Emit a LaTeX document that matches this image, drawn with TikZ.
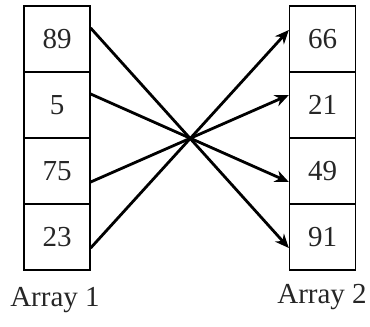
\documentclass[tikz,border=0pt]{standalone}
\usepackage{fontspec}
\setmainfont{Liberation Serif}
\usetikzlibrary{arrows.meta,calc}
\begin{document}
\begin{tikzpicture}[x=1pt,y=-1pt,
  cell/.style={draw, line width=1.3pt, minimum width=66pt, minimum height=66pt, inner sep=0pt, font=\fontsize{29}{32}\selectfont, text=black!85},
  lbl/.style={inner sep=0pt, font=\fontsize{29}{32}\selectfont, text=black!85},
  arr/.style={line width=2.8pt, -{Stealth[length=14pt,width=12pt]}}]
\useasboundingbox (0,0) rectangle (370,327);
\node[cell] (a1) at (57,39) {89};
\node[cell] (a2) at (57,105) {5};
\node[cell] (a3) at (57,171) {75};
\node[cell] (a4) at (57,237) {23};
\node[cell] (b1) at (322.5,39) {66};
\node[cell] (b2) at (322.5,105) {21};
\node[cell] (b3) at (322.5,171) {49};
\node[cell] (b4) at (322.5,237) {91};
\node[lbl] (l1) at (55,300) {Array 1};
\node[lbl] (l2) at (322,297) {Array 2};
\draw[arr] ($(a1.east)+(0,-11)$) -- ($(b4.west)+(0,11)$);
\draw[arr] ($(a2.east)+(0,-11)$) -- ($(b3.west)+(0,11)$);
\draw[arr] ($(a3.east)+(0,11)$) -- ($(b2.west)+(0,-10)$);
\draw[arr] ($(a4.east)+(0,11)$) -- ($(b1.west)+(0,-9)$);
\end{tikzpicture}
\end{document}
